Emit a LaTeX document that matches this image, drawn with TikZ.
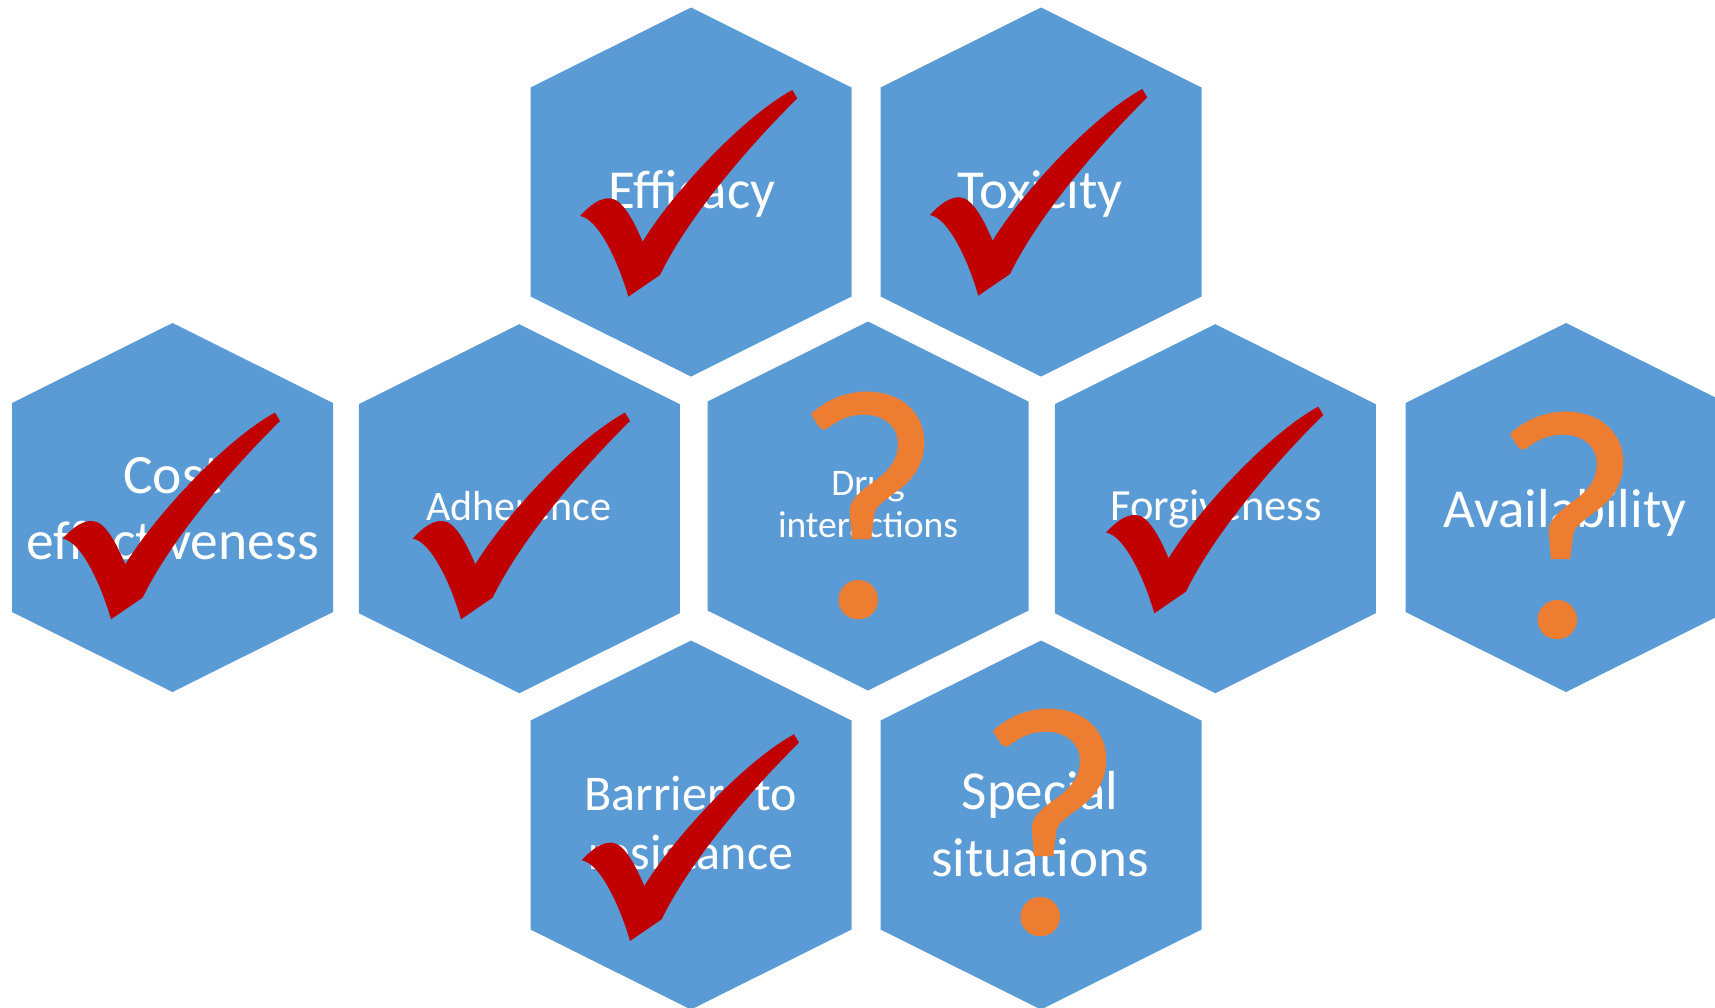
\documentclass[tikz,border=0pt]{standalone}
\usepackage{fontspec}
\setmainfont{Carlito}

\definecolor{hexblue}{HTML}{5B9BD5}
\definecolor{tickred}{HTML}{C00000}
\definecolor{qorange}{HTML}{ED7D31}

% red tick, anchored at its lower tip
\newcommand{\redtick}[2]{%
  \fill[tickred, shift={(#1,#2)}] (0,0)
    .. controls (-10,-35) and (-30,-78) .. (-48.3,-80.7)
    .. controls (-38,-92) and (-28,-99) .. (-18.3,-98.3)
    .. controls (-6,-98) and (6,-75) .. (14.3,-55)
    .. controls (45,-105) and (115,-180) .. (164,-206.7)
    -- (169,-198.3)
    .. controls (120,-150) and (60,-80) .. (31.7,-21.7)
    -- cycle;}

\begin{document}
\begin{tikzpicture}[x=1pt, y=-1pt,
    hexlabel/.style={text=white, align=center, inner sep=0pt, anchor=base},
    bigtext/.style={hexlabel, font=\fontsize{55}{66}\selectfont},
    qmark/.style={text=qorange, inner sep=0pt, anchor=base,
                  font=\fontsize{330}{330}\selectfont}]
    \clip (0,0) rectangle (1715,1007);

    % Hexagons
    \foreach \cx/\cy in {691/192, 1041/192,
                         172.5/507.5, 519.3/508.7, 868/506, 1215.3/508.7, 1566/507.5,
                         691/825, 1041/825}
      \fill[hexblue] (\cx,\cy) ++(0,-184.5) -- ++(160.5,80) -- ++(0,209)
            -- ++(-160.5,80) -- ++(-160.5,-80) -- ++(0,-209) -- cycle;

    % Labels (base = baseline of the last line)
    \node[bigtext] (eff) at (692,208.3) {Efficacy};
    \node[bigtext] (tox) at (1040,208.3) {Toxicity};
    \node[bigtext, font=\fontsize{55.5}{66}\selectfont] (cost) at (172.5,559) {Cost\\effectiveness};
    \node[hexlabel, font=\fontsize{42}{50}\selectfont] (adh) at (519,520) {Adherence};
    \node[hexlabel, font=\fontsize{37.5}{42}\selectfont] (drug) at (868,537.7) {Drug\\interactions};
    \node[hexlabel, font=\fontsize{44.5}{50}\selectfont] (forg) at (1216,520) {Forgiveness};
    \node[bigtext] (avail) at (1565,527) {Availability};
    \node[hexlabel, font=\fontsize{50}{59.3}\selectfont] (barr) at (691,869.3) {Barriers to\\resistance};
    \node[hexlabel, font=\fontsize{55}{67.5}\selectfont] (spec) at (1040,876.7) {Special\\situations};

    % Ticks
    \redtick{628.3}{296.7}
    \redtick{978.3}{295.7}
    \redtick{111}{619.3}
    \redtick{461}{619.3}
    \redtick{1154.3}{613.3}
    \redtick{630}{941}

    % Question marks
    \node[qmark] (qdrug) at (868,617) {?};
    \node[qmark] (qspec) at (1050,934) {?};
    \node[qmark] (qavail) at (1567,637) {?};
\end{tikzpicture}
\end{document}
